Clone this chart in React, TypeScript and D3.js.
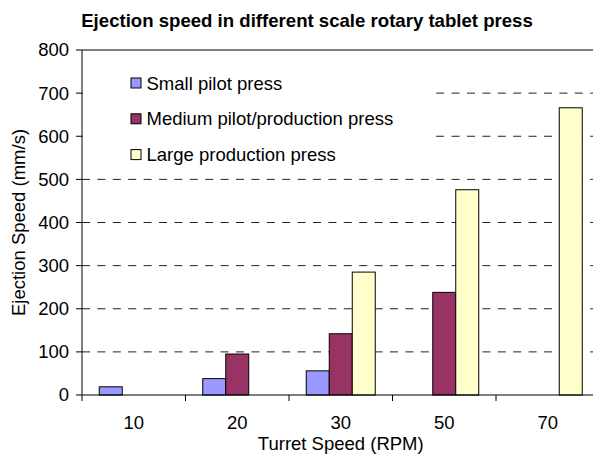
import React from "react";
import * as d3 from "d3";

// Turret speed categories (RPM)
const categories = ["10", "20", "30", "50", "70"];

// Ejection speed (mm/s) per press size; null = no measurement
const smallPilot: (number | null)[] = [19, 38, 56, null, null];
const mediumPilot: (number | null)[] = [null, 95, 142, 238, null];
const largeProduction: (number | null)[] = [null, null, 285, 476, 666];

const seriesNames = ["Small pilot press", "Medium pilot/production press", "Large production press"];
const seriesColors = ["#9999FF", "#993366", "#FFFFCC"];
const yTicks = [0, 100, 200, 300, 400, 500, 600, 700, 800];

const W = 593;
const H = 458;
const FONT = "'Liberation Sans', Arial, Helvetica, sans-serif";
const FS = 18.5;

export default function App() {
  const series = [smallPilot, mediumPilot, largeProduction];
  const left = 82;
  const bandW = 103.5;
  const x = d3
    .scaleBand<string>()
    .domain(categories)
    .range([left, left + bandW * categories.length])
    .paddingInner(0)
    .paddingOuter(0);
  const y = d3.scaleLinear().domain([0, 800]).range([395, 50]);

  // gap between groups = 1.5 bar widths
  const barW = x.bandwidth() / (series.length + 1.5);
  const groupOffset = barW * 0.75;

  const plotRight = x.range()[1];

  return (
    <svg
      width={W}
      height={H}
      style={{ position: "absolute", left: 0, top: 0, background: "#fff" }}
      fontFamily={FONT}
    >
      <rect x={0} y={0} width={W} height={H} fill="#fff" />
      <text x={307} y={27} textAnchor="middle" fontSize={18.6} fontWeight="bold" fill="#000">
        Ejection speed in different scale rotary tablet press
      </text>

      {/* gridlines */}
      {yTicks
        .filter((t) => t > 0 && t < 800)
        .map((t) => (
          <line
            key={"g" + t}
            x1={left}
            x2={plotRight}
            y1={y(t)}
            y2={y(t)}
            stroke="#222"
            strokeWidth={1}
            strokeDasharray="8 7.4"
          />
        ))}
      {/* plot top border */}
      <line x1={left} x2={plotRight} y1={y(800)} y2={y(800)} stroke="#000" strokeWidth={1} />

      {/* legend */}
      <rect x={left + 1} y={58} width={435 - left - 1} height={114} fill="#fff" />
      {seriesNames.map((name, i) => (
        <g key={name}>
          <rect
            x={131}
            y={78 + i * 35.8}
            width={10}
            height={10}
            fill={seriesColors[i]}
            stroke="#000"
            strokeWidth={1}
          />
          <text x={146.5} y={89.5 + i * 35.8} fontSize={FS} fill="#000">
            {name}
          </text>
        </g>
      ))}

      {/* bars */}
      {series.map((vals, si) =>
        vals.map((v, ci) =>
          v == null ? null : (
            <rect
              key={`b${si}-${ci}`}
              x={(x(categories[ci]) as number) + groupOffset + si * barW}
              y={y(v)}
              width={barW}
              height={y(0) - y(v)}
              fill={seriesColors[si]}
              stroke="#000"
              strokeWidth={1}
            />
          )
        )
      )}

      {/* y axis */}
      <line x1={left} x2={left} y1={y(800)} y2={y(0) + 6} stroke="#000" strokeWidth={1} />
      {yTicks.map((t) => (
        <g key={"y" + t}>
          <line x1={left - 6} x2={left} y1={y(t)} y2={y(t)} stroke="#000" strokeWidth={1} />
          <text x={left - 13} y={y(t)} dy="0.35em" textAnchor="end" fontSize={FS} fill="#000">
            {t}
          </text>
        </g>
      ))}

      {/* x axis */}
      <line x1={left} x2={plotRight} y1={y(0)} y2={y(0)} stroke="#000" strokeWidth={1} />
      {categories.map((c, i) => (
        <g key={"x" + c}>
          {i > 0 && (
            <line
              x1={x(c) as number}
              x2={x(c) as number}
              y1={y(0)}
              y2={y(0) + 6}
              stroke="#000"
              strokeWidth={1}
            />
          )}
          <text
            x={(x(c) as number) + x.bandwidth() / 2}
            y={429}
            textAnchor="middle"
            fontSize={FS}
            fill="#000"
          >
            {c}
          </text>
        </g>
      ))}

      <text x={(left + plotRight) / 2} y={450} textAnchor="middle" fontSize={FS} fill="#000">
        Turret Speed (RPM)
      </text>
      <text
        transform={`translate(25, ${(50 + 395) / 2}) rotate(-90)`}
        textAnchor="middle"
        fontSize={FS}
        fill="#000"
      >
        Ejection Speed (mm/s)
      </text>
    </svg>
  );
}
